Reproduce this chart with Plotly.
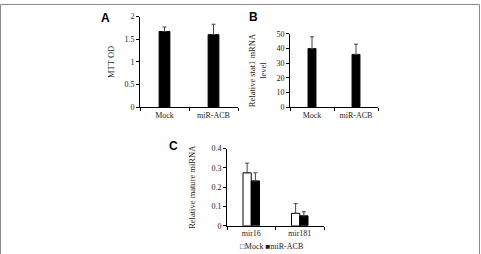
import plotly.graph_objects as go

W, H = 481, 254

# Panel A
a_cats = ["Mock", "miR-ACB"]
a_vals = [1.67, 1.60]
a_err = [0.10, 0.23]
# Panel B
b_cats = ["Mock", "miR-ACB"]
b_vals = [40, 36]
b_err = [8, 7]
# Panel C
c_cats = ["mir16", "mir181"]
c_mock = [0.275, 0.065]
c_mock_err = [0.05, 0.05]
c_acb = [0.233, 0.052]
c_acb_err = [0.042, 0.021]
legend_names = ["Mock", "miR-ACB"]

FONT = "Liberation Serif"
fig = go.Figure()

def px_x(p):
    return p / W

def px_y(p):
    return 1 - p / H

def eb(arr):
    return dict(type="data", array=arr, arrayminus=[0] * len(arr), symmetric=False,
                color="#444", thickness=1, width=2)

fig.add_trace(go.Bar(x=a_cats, y=a_vals, error_y=eb(a_err), marker=dict(color="black", line=dict(color="black", width=1)),
                     width=0.22, xaxis="x", yaxis="y", showlegend=False))
fig.add_trace(go.Bar(x=b_cats, y=b_vals, error_y=eb(b_err), marker=dict(color="black", line=dict(color="black", width=1)),
                     width=0.18, xaxis="x2", yaxis="y2", showlegend=False))
fig.add_trace(go.Bar(x=c_cats, y=c_mock, name=legend_names[0], error_y=eb(c_mock_err),
                     marker=dict(color="white", line=dict(color="black", width=1)), xaxis="x3", yaxis="y3",
                     showlegend=False))
fig.add_trace(go.Bar(x=c_cats, y=c_acb, name=legend_names[1], error_y=eb(c_acb_err),
                     marker=dict(color="black", line=dict(color="black", width=1)), xaxis="x3", yaxis="y3",
                     showlegend=False))

axfont = dict(family=FONT, size=8, color="#222")
titlefont = dict(family=FONT, size=8.5, color="#222")
def xax(dom, anchor):
    return dict(domain=dom, anchor=anchor, showline=True, linecolor="black", linewidth=1,
                ticks="outside", ticklen=3, tickcolor="black", tickson="boundaries", tickangle=0,
                tickfont=axfont, showgrid=False, zeroline=False, fixedrange=True)
def yax(dom, anchor, rng, dtick, title, standoff):
    return dict(domain=dom, anchor=anchor, range=rng, dtick=dtick, showline=True, linecolor="black",
                linewidth=1, ticks="outside", ticklen=3, tickcolor="black", tickfont=axfont,
                showgrid=False, zeroline=False, title=dict(text=title, font=titlefont, standoff=standoff))

fig.update_layout(
    width=W, height=H, margin=dict(l=0, r=0, t=0, b=0),
    paper_bgcolor="white", plot_bgcolor="white",
    barmode="group", bargap=0.66, bargroupgap=0,
    xaxis=xax([px_x(140), px_x(238)], "y"),
    yaxis=yax([px_y(107), px_y(13)], "x", [0, 2], 0.5, "MTT OD", 8),
    xaxis2=xax([px_x(290), px_x(378)], "y2"),
    yaxis2=yax([px_y(107), px_y(31)], "x2", [0, 50], 10, "Relative stat1 mRNA<br>level", 8),
    xaxis3=xax([px_x(227), px_x(324)], "y3"),
    yaxis3=yax([px_y(230), px_y(150)], "x3", [0, 0.4], 0.1, "Relative mature miRNA", 14),
    showlegend=False,
)

fig.add_annotation(text="□%s ■%s" % tuple(legend_names), x=px_x(238), y=px_y(251), xref="paper", yref="paper",
                   xanchor="left", yanchor="middle", showarrow=False, font=dict(family=FONT, size=8, color="#222"))

for txt, x, y in [("A", 105, 14), ("B", 253, 13), ("C", 173, 147)]:
    fig.add_annotation(text="<b>%s</b>" % txt, x=px_x(x), y=px_y(y), xref="paper", yref="paper",
                       xanchor="center", yanchor="middle",
                       showarrow=False, font=dict(family="Liberation Sans", size=12, color="black"))

fig.add_shape(type="rect", xref="paper", yref="paper", x0=0.5 / W, x1=1 - 1.5 / W, y0=-0.2, y1=1 - 0.5 / H,
              line=dict(color="#8a8a8a", width=1))

fig.write_html("out.html")
